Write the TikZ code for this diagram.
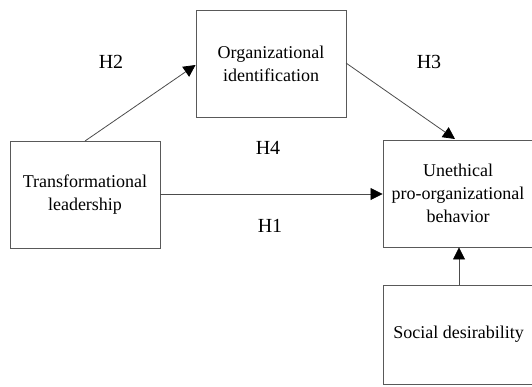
\documentclass[tikz,border=0pt]{standalone}
\usepackage{fontspec}
\setmainfont{Liberation Serif}
\usetikzlibrary{arrows.meta}
\begin{document}
\begin{tikzpicture}[x=1pt,y=-1pt,
  box/.style={draw=black!65,line width=0.9pt,minimum width=150pt,minimum height=107pt,inner sep=0pt,align=center,font=\fontsize{18}{23}\selectfont},
  conn/.style={draw=black!70,line width=0.8pt,-{Triangle[length=12pt,width=12pt,color=black]}},
  lab/.style={font=\fontsize{20}{22}\selectfont}]
\useasboundingbox (0,0) rectangle (532,386);
\node[box] (oi) at (271,63.5) {Organizational\\identification};
\node[box] (tl) at (85,194.5) {Transformational\\leadership};
\node[box] (up) at (458,193.5) {Unethical\\pro-organizational\\behavior};
\node[box,minimum height=99pt] (sd) at (458.5,334.5) {Social desirability};
\coordinate (a2) at (85,141);
\draw[conn] (a2) -- (oi.west |- 0,65);
\coordinate (a3s) at (346,63);
\coordinate (a3e) at (455,139);
\draw[conn] (a3s) -- (a3e);
\draw[conn] (tl.east |- 0,194) -- (up.west |- 0,194);
\draw[conn] (sd.north -| 459,0) -- (up.south -| 459,0);
\node[lab] (h2) at (111,62) {H2};
\node[lab] (h3) at (429,62) {H3};
\node[lab] (h4) at (268,148) {H4};
\node[lab] (h1) at (270,226) {H1};
\end{tikzpicture}
\end{document}
